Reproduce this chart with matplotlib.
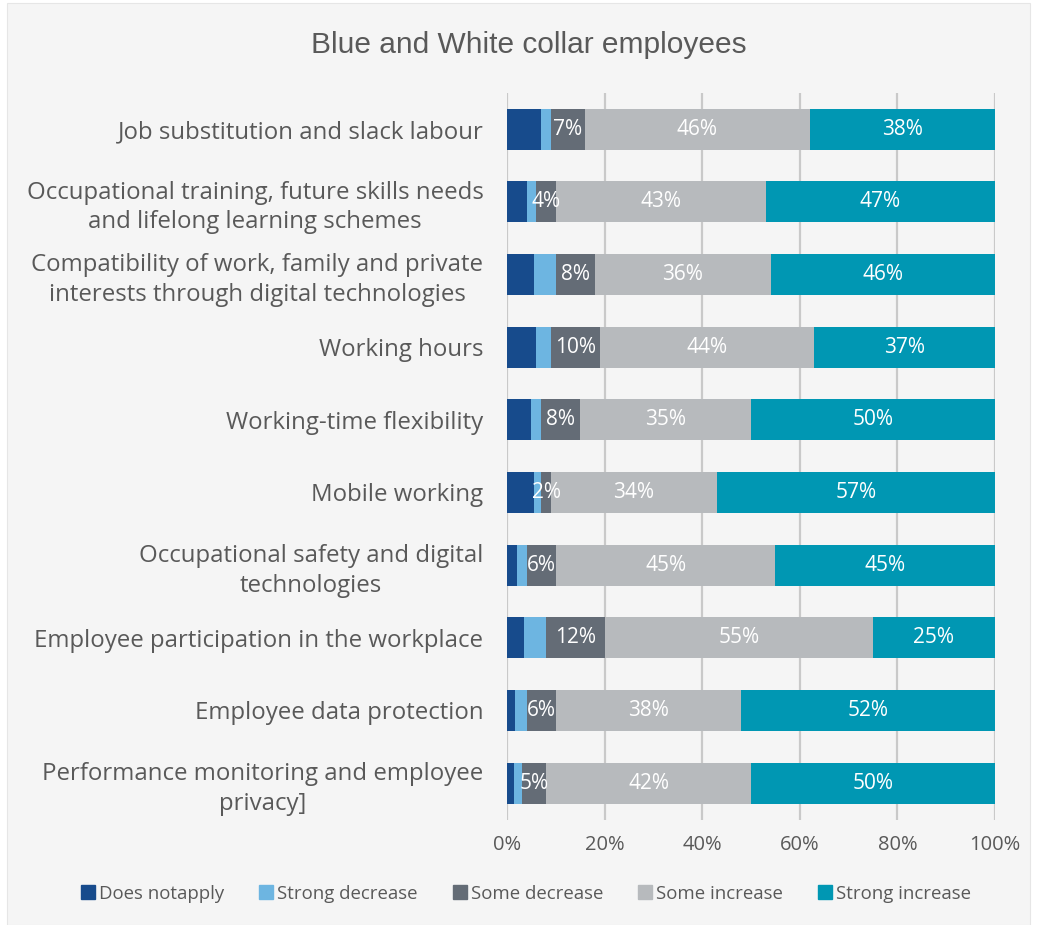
import matplotlib
matplotlib.use("Agg")
import matplotlib.pyplot as plt
from matplotlib.patches import Rectangle
from matplotlib.lines import Line2D
import numpy as np

plt.rcParams['font.family'] = ['Open Sans', 'DejaVu Sans']

categories = [
    "Job substitution and slack labour",
    "Occupational training, future skills needs\nand lifelong learning schemes",
    "Compatibility of work, family and private\ninterests through digital technologies",
    "Working hours",
    "Working-time flexibility",
    "Mobile working",
    "Occupational safety and digital\ntechnologies",
    "Employee participation in the workplace",
    "Employee data protection",
    "Performance monitoring and employee\nprivacy]",
]

series_names = ["Does notapply", "Strong decrease", "Some decrease",
                "Some increase", "Strong increase"]

does_not_apply  = [7.0, 4.0, 5.5, 6.0, 5.0, 5.5, 2.0, 3.5, 1.7, 1.5]
strong_decrease = [2.0, 2.0, 4.5, 3.0, 2.0, 1.5, 2.0, 4.5, 2.3, 1.5]
some_decrease   = [7, 4, 8, 10, 8, 2, 6, 12, 6, 5]
some_increase   = [46, 43, 36, 44, 35, 34, 45, 55, 38, 42]
strong_increase = [38, 47, 46, 37, 50, 57, 45, 25, 52, 50]

x_ticks = [0, 20, 40, 60, 80, 100]

colors = ["#174b8c", "#6db5e1", "#646c76", "#b7babd", "#0097b3"]
labelled = [False, False, True, True, True]
text_gray = "#595959"

series = [does_not_apply, strong_decrease, some_decrease, some_increase, strong_increase]

fig = plt.figure(figsize=(10.37, 9.25), dpi=100)
fig.patch.set_facecolor("white")
fig.patches.append(Rectangle((7 / 1037, 0), 1 - 14 / 1037, 1 - 3 / 925,
                             transform=fig.transFigure, facecolor="#f5f5f5",
                             edgecolor="#e6e6e6", lw=0.8, zorder=-10))

ax = fig.add_axes([507 / 1037, 1 - 819.5 / 925, 488 / 1037, (819.5 - 92.7) / 925])
ax.set_facecolor("none")

y = np.arange(len(categories))
left = np.zeros(len(categories))
for vals, col, lab, name in zip(series, colors, labelled, series_names):
    vals = np.asarray(vals, dtype=float)
    ax.barh(y, vals, left=left, height=0.565, color=col, label=name, zorder=3)
    if lab:
        for yi, (l, v) in enumerate(zip(left, vals)):
            ax.text(l + v / 2, yi, f"{v:.0f}%", ha="center", va="center",
                    color="white", fontsize=15, zorder=4)
    left += vals

ax.set_xlim(0, 100)
ax.set_ylim(len(categories) - 0.5, -0.5)
ax.set_xticks(x_ticks)
ax.set_xticklabels([f"{t}%" for t in x_ticks], color=text_gray, fontsize=14.5)
ax.set_yticks(y)
ax.set_yticklabels(categories, color=text_gray, fontsize=17.3, linespacing=1.3)
for t in ax.get_yticklabels():
    t.set_multialignment("center")
ax.tick_params(axis="both", length=0)
ax.tick_params(axis="y", pad=17)
ax.tick_params(axis="x", pad=11)
ax.xaxis.grid(True, color="#c9c9c9", lw=1.6, zorder=0)
ax.set_axisbelow(True)
for s in ax.spines.values():
    s.set_visible(False)

fig.text(529 / 1037, 1 - 45 / 925, "Blue and White collar employees",
         ha="center", va="center", fontsize=21.5, color=text_gray,
         family=["Liberation Sans", "DejaVu Sans"])

handles = [Line2D([], [], marker="s", linestyle="none", markersize=10,
                  markerfacecolor=c, markeredgecolor=c) for c in colors]
fig.legend(handles, series_names, loc="center", bbox_to_anchor=(0.507, 1 - 894 / 925),
           ncol=5, frameon=False, fontsize=13.4, labelcolor=text_gray,
           handletextpad=0.2, columnspacing=1.85, handlelength=0.8)

fig.savefig("out.png", dpi=100, facecolor=fig.get_facecolor())
